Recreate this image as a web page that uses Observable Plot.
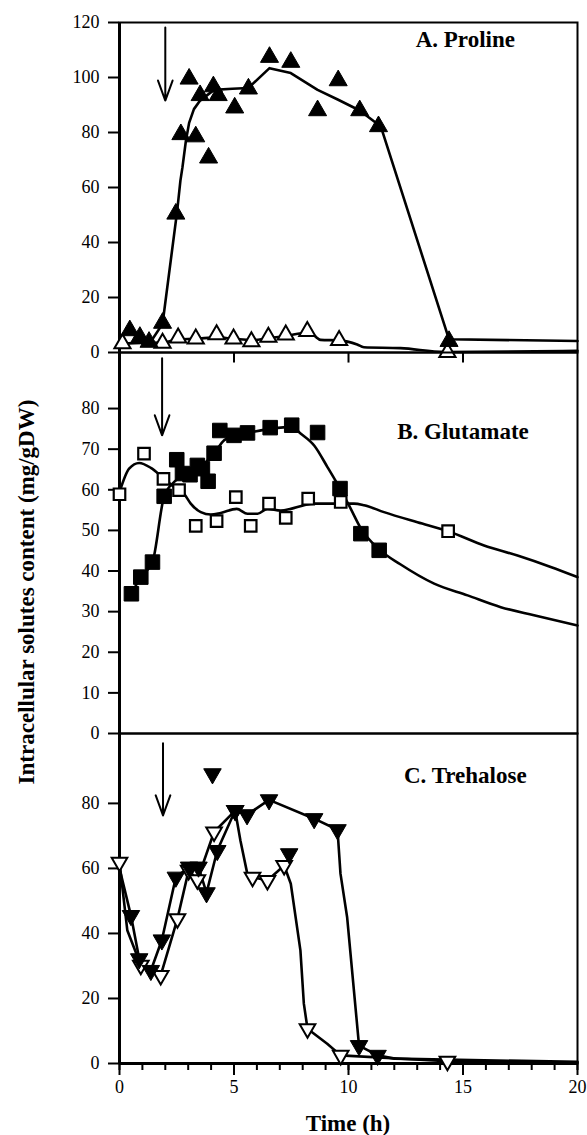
<!DOCTYPE html>
<html><head><meta charset="utf-8">
<script src="https://cdn.jsdelivr.net/npm/d3@7"></script>
<script src="https://cdn.jsdelivr.net/npm/@observablehq/plot@0.6"></script>
<style>
body{margin:0;background:#fff;}
#wrap{position:relative;width:587px;height:1135px;overflow:hidden;font-family:"Liberation Serif","LiberationSerif","Times New Roman",Times,"Nimbus Roman","DejaVu Serif",serif;color:#000;}
.panel{position:absolute;left:0;}
#ylab{position:absolute;left:27px;top:592px;transform:translate(-50%,-50%) rotate(-90deg);white-space:nowrap;font-weight:bold;font-size:23px;}
#xlab{position:absolute;left:348px;top:1124px;transform:translate(-50%,-50%);font-weight:bold;font-size:23px;white-space:nowrap;}
</style></head><body>
<div id="wrap"><div id="ylab">Intracellular solutes content (mg/gDW)</div><div id="xlab">Time (h)</div></div>
<script>
// ---------- data (time h, mg/gDW) ----------
// A. Proline
const prolineFilledPts = [[0.45,8],[0.89,5.6],[1.29,3.8],[1.88,10.7],[2.46,50.4],[2.68,79.3],[3.04,99.5],[3.33,78.5],[3.52,93.5],[3.89,70.8],[4.1,96.7],[4.31,93.5],[5.03,89],[5.63,95.9],[6.55,107.4],[7.48,105.6],[8.65,88],[9.55,98.9],[10.49,88],[11.31,82.2],[14.39,4.1]];
const prolineFilledFit = [[0.45,8],[0.89,4.6],[1.35,3.7],[1.88,10.4],[2.52,51.6],[2.66,62.5],[2.75,67.4],[2.9,77],[3.04,83.5],[3.25,88.5],[3.52,91.6],[4.13,95.5],[4.93,95.9],[5.63,96.2],[6.55,103.4],[7.48,101.6],[8.65,95.5],[9.55,91.9],[10.49,88],[11.41,82.2],[14.39,4.8],[20,4.2]];
const prolineOpenPts = [[0.13,3.2],[1.88,3.4],[2.56,5.3],[3.33,5],[4.24,6.5],[4.98,5],[5.76,4],[6.5,5.6],[7.26,6.4],[8.2,7.7],[9.59,4.4],[14.32,0.1]];
const prolineOpenFit = [[0.13,3.2],[1,3.5],[1.88,3.6],[2.56,4.8],[3.33,5],[4.24,5.5],[4.98,5],[5.76,4.5],[6.5,5.2],[7.26,6],[8.2,7.2],[8.49,6.2],[8.78,4.6],[9.59,4.4],[10.38,2.9],[10.67,1.9],[12.27,1.6],[14.2,0.2],[20,0.6]];
// B. Glutamate
const glutFilledPts = [[0.52,34.4],[0.93,38.5],[1.44,42.2],[1.95,58.4],[2.5,67.4],[2.75,64],[3.08,63.7],[3.4,66],[3.62,65.2],[3.87,62.1],[4.13,69],[4.38,74.6],[5.0,73.4],[5.59,74],[6.58,75.3],[7.52,75.9],[8.65,74.1],[9.63,60.3],[10.54,49.2],[11.34,45.1]];
const glutFilledFit = [[0.52,34.4],[0.93,38.5],[1.44,42.2],[1.95,58.4],[2.4,62],[3,64],[3.6,66],[4.13,69],[4.57,72.2],[5,73.4],[5.59,74],[6.58,75],[7.52,75.5],[7.92,73.8],[8.5,70.9],[9.08,65.6],[9.63,60.3],[10.1,55.3],[10.54,50.5],[11.3,45.5],[12.28,41.6],[13.74,36.9],[15.2,34],[16.65,31.1],[18.1,29.1],[20,26.6]];
const glutOpenPts = [[0,58.9],[1.07,68.9],[1.92,62.7],[2.6,59.9],[3.33,51.1],[4.24,52.3],[5.08,58.2],[5.73,51.1],[6.53,56.6],[7.26,53.1],[8.24,57.8],[9.66,57],[14.35,49.8]];
const glutOpenFit = [[0,59.4],[0.42,65.2],[0.86,66.6],[1.37,65.4],[1.88,63.1],[2.38,60.7],[2.82,59],[3.11,56.6],[3.55,54.5],[3.99,53.9],[4.42,54.3],[5.12,55.3],[5.59,54.1],[6.03,54.1],[6.46,55.3],[7.04,54.9],[7.48,55.3],[8.06,56.2],[8.5,56.6],[10.24,56.6],[10.68,56.2],[11.55,54.5],[13.01,52],[14.35,49.8],[15.92,46.3],[17.38,43.8],[18.83,41],[20,38.5]];
// C. Trehalose
const trehFilledPts = [[0.5,45.5],[0.86,32.2],[1.37,28.6],[1.85,38],[2.46,57.3],[3.04,60.4],[3.45,60.4],[3.8,52.5],[4.06,89.1],[4.27,65.5],[5.05,77.8],[5.57,76.5],[6.53,81.1],[7.41,64.5],[8.5,75.3],[9.52,71.9],[10.46,5.5],[11.27,2.5]];
const trehFilledLine = [[0,60],[0.5,45.5],[0.86,32.2],[1.37,28.6],[1.85,38],[2.46,57.3],[3.04,60.4],[3.45,60.4],[3.8,52.5],[4.27,65.5],[5.05,77.8],[5.57,76.5],[6.53,81.1],[8.5,75.3],[9.52,71.9],[9.65,58.4],[9.94,45],[10.46,5.5],[11.27,2.5],[12,1.5],[20,0.5]];
const trehOpenPts = [[0,61.9],[0.93,30.2],[1.8,27.1],[2.53,44.5],[3.02,59.4],[3.4,56.5],[4.13,71.2],[5.05,77.8],[5.81,57.3],[6.46,56.3],[7.19,60.9],[8.21,10.7],[9.66,2.5],[14.32,0.7]];
const trehOpenLine = [[0,61.9],[0.34,41],[0.93,30.2],[1.8,27.1],[2.53,44.5],[3.02,59.4],[3.4,56.5],[4.13,71.2],[5.05,77.8],[5.28,68.6],[5.58,58.4],[5.81,57.3],[6.46,56.3],[7.19,60.9],[7.48,55.3],[7.9,34.8],[8.05,18.4],[8.21,10.7],[9.07,6.1],[9.66,2.5],[14.32,0.7],[20,0.3]];
// ticks / labels
const yTicksA = [0,20,40,60,80,100,120];
const yTicksB = [0,10,20,30,40,50,60,70,80];
const yTicksC = [0,20,40,60,80];
const xMajorTicks = [0,5,10,15,20];
const xMinorTicks = [0,1,2,3,4,5,6,7,8,9,10,11,12,13,14,15,16,17,18,19,20];
const boundaryTicks = [5,10,15];
const panelTitles = ["A. Proline","B. Glutamate","C. Trehalose"];

// ---------- helpers ----------
const P = a => a.map(([t,v]) => ({t, v}));
const FONT = '"Liberation Serif","LiberationSerif","Times New Roman",Times,"Nimbus Roman","DejaVu Serif",serif';
const triangleDown = {
  draw(ctx, size) {
    const y = -Math.sqrt(size / (Math.sqrt(3) * 3));
    ctx.moveTo(0, -y * 2);
    ctx.lineTo(-Math.sqrt(3) * y, y);
    ctx.lineTo(Math.sqrt(3) * y, y);
    ctx.closePath();
  }
};
const common = {
  width: 587, marginLeft: 119, marginRight: 10,
  style: {fontFamily: FONT, fontSize: "18px", background: "transparent", overflow: "visible", color: "#000"}
};
const lineOpts = {x: "t", y: "v", stroke: "black", strokeWidth: 2.6, strokeLinejoin: "round"};
const yAxis = ticks => Plot.axisY({ticks, tickSize: 11, tickPadding: 9, strokeWidth: 2, fontSize: 18, label: null});
const wrap = document.getElementById("wrap");
function place(svg, top) {
  const d = document.createElement("div");
  d.className = "panel"; d.style.top = top + "px";
  d.appendChild(svg); wrap.appendChild(d);
}

// ---------- Panel A ----------
const A = Plot.plot({
  ...common, height: 352, marginTop: 22, marginBottom: 0,
  x: {domain: [0, 20], axis: null},
  y: {domain: [0, 120], label: null},
  marks: [
    yAxis(yTicksA),
    Plot.frame({strokeWidth: 2}),
    Plot.ruleX([0], {strokeWidth: 3}),
    Plot.line(P(prolineOpenFit), {...lineOpts, curve: "monotone-x"}),
    Plot.line(P(prolineFilledFit), {...lineOpts, curve: "linear"}),
    Plot.dot(P(prolineOpenPts), {x: "t", y: "v", symbol: "triangle", r: 6, fill: "white", stroke: "black", strokeWidth: 2}),
    Plot.dot(P(prolineFilledPts), {x: "t", y: "v", symbol: "triangle", r: 6.7, fill: "black", stroke: "black", strokeWidth: 1}),
    Plot.arrow([0], {x1: 2.0, y1: 118.2, x2: 2.0, y2: 91.6, headLength: 16, headAngle: 40, strokeWidth: 2}),
    Plot.text([panelTitles[0]], {x: 15.1, y: 113.8, text: d => d, fontWeight: "bold", fontSize: 23})
  ]
});
place(A, 0);

// ---------- Panel B ----------
const B = Plot.plot({
  ...common, height: 381, marginTop: 0, marginBottom: 0,
  x: {domain: [0, 20], axis: null},
  y: {domain: [0, 93.8], label: null},
  marks: [
    yAxis(yTicksB),
    Plot.frame({strokeWidth: 2}),
    Plot.ruleX([0], {strokeWidth: 3}),
    Plot.ruleX(boundaryTicks, {y1: 93.8, y2: 91.2, strokeWidth: 2}),
    Plot.line(P(glutOpenFit), {...lineOpts, curve: "monotone-x"}),
    Plot.line(P(glutFilledFit), {...lineOpts, curve: "monotone-x"}),
    Plot.dot(P(glutOpenPts), {x: "t", y: "v", symbol: "square", r: 6.5, fill: "white", stroke: "black", strokeWidth: 2.2}),
    Plot.dot(P(glutFilledPts), {x: "t", y: "v", symbol: "square", r: 8.2, fill: "black", stroke: "black", strokeWidth: 1}),
    Plot.arrow([0], {x1: 1.86, y1: 92.4, x2: 1.86, y2: 73.4, headLength: 16, headAngle: 40, strokeWidth: 2}),
    Plot.text([panelTitles[1]], {x: 15.0, y: 74.3, text: d => d, fontWeight: "bold", fontSize: 23})
  ]
});
place(B, 352);

// ---------- Panel C ----------
const C = Plot.plot({
  ...common, height: 402, marginTop: 0, marginBottom: 72,
  x: {domain: [0, 20], label: null},
  y: {domain: [0, 101.5], label: null},
  marks: [
    yAxis(yTicksC),
    Plot.axisX({ticks: xMinorTicks, tickSize: 7, text: null, strokeWidth: 2, label: null}),
    Plot.axisX({ticks: xMajorTicks, tickSize: 12, tickPadding: 5, strokeWidth: 2, fontSize: 18, label: null}),
    Plot.frame({strokeWidth: 2}),
    Plot.ruleX([0], {strokeWidth: 3}),
    Plot.ruleY([0], {strokeWidth: 3}),
    Plot.line(P(trehOpenLine), lineOpts),
    Plot.line(P(trehFilledLine), lineOpts),
    Plot.dot(P(trehOpenPts), {x: "t", y: "v", symbol: triangleDown, r: 5.8, fill: "white", stroke: "black", strokeWidth: 2}),
    Plot.dot(P(trehFilledPts), {x: "t", y: "v", symbol: triangleDown, r: 6.5, fill: "black", stroke: "black", strokeWidth: 1}),
    Plot.arrow([0], {x1: 1.9, y1: 98.5, x2: 1.9, y2: 76.3, headLength: 16, headAngle: 40, strokeWidth: 2}),
    Plot.text([panelTitles[2]], {x: 15.1, y: 88.6, text: d => d, fontWeight: "bold", fontSize: 23})
  ]
});
place(C, 733);
</script>
</body></html>
